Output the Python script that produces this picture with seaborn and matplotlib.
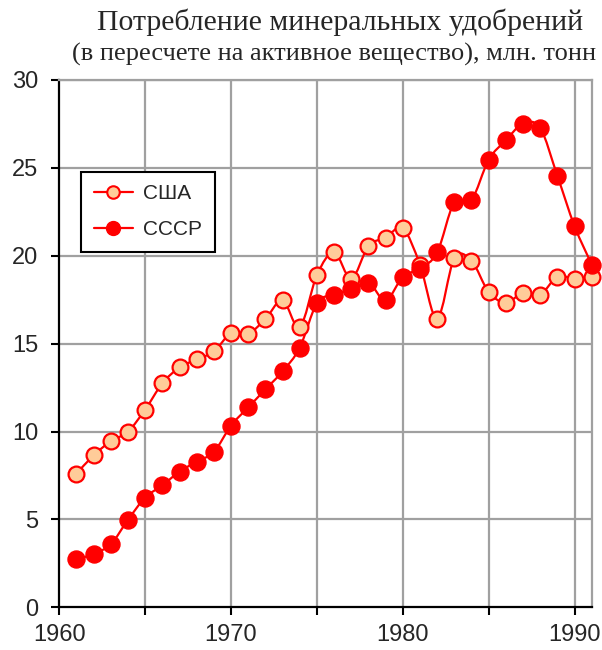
import numpy as np
import pandas as pd
import matplotlib
matplotlib.use("Agg")
import matplotlib.pyplot as plt
from matplotlib.path import Path
from matplotlib.patches import PathPatch
from matplotlib.lines import Line2D
import seaborn as sns

years = list(range(1961, 1992))
usa = [7.6, 8.65, 9.45, 10.0, 11.25, 12.74, 13.65, 14.1, 14.56, 15.59,
       15.57, 16.39, 17.47, 15.94, 18.9, 20.19, 18.7, 20.55, 21.03, 21.56,
       19.5, 16.42, 19.85, 19.71, 17.94, 17.33, 17.9, 17.79, 18.8, 18.7, 18.8]
ussr = [2.72, 3.04, 3.59, 4.98, 6.24, 6.94, 7.72, 8.29, 8.84, 10.34,
        11.37, 12.4, 13.42, 14.77, 17.3, 17.79, 18.09, 18.47, 17.46, 18.8,
        19.27, 20.19, 23.05, 23.18, 25.46, 26.57, 27.52, 27.27, 24.55, 21.69, 19.5]
series_names = ["США", "СССР"]
title1 = "Потребление минеральных удобрений"
title2 = "(в пересчете на активное вещество), млн. тонн"

df = pd.DataFrame({"year": years * 2,
                   "value": usa + ussr,
                   "series": [series_names[0]] * len(years) + [series_names[1]] * len(years)})

RED = "#FF0000"
PEACH = "#FFCC99"

sns.set_style("white")
plt.rcParams['font.family'] = ['Liberation Sans', 'DejaVu Sans']

fig = plt.figure(figsize=(6.02, 6.5), dpi=100)
ax = fig.add_axes([59.3 / 602, 1 - 607.3 / 650, (591.7 - 59.3) / 602, (607.3 - 80) / 650])


def smooth_path(xs, ys):
    pts = np.column_stack([xs, ys]).astype(float)
    n = len(pts)
    verts = [pts[0]]
    codes = [Path.MOVETO]
    for i in range(n - 1):
        p0 = pts[i - 1] if i > 0 else pts[i]
        p1 = pts[i]
        p2 = pts[i + 1]
        p3 = pts[i + 2] if i + 2 < n else pts[i + 1]
        c1 = p1 + (p2 - p0) / 6.0
        c2 = p2 - (p3 - p1) / 6.0
        verts += [c1, c2, p2]
        codes += [Path.CURVE4] * 3
    return Path(verts, codes)


for name in series_names:
    sub = df[df.series == name]
    ax.add_patch(PathPatch(smooth_path(sub.year.values, sub.value.values),
                           facecolor="none", edgecolor=RED, lw=1.6, zorder=3,
                           clip_on=False))

sns.scatterplot(data=df[df.series == series_names[0]], x="year", y="value", ax=ax,
                color=PEACH, edgecolor=RED, linewidth=1.6, s=130, zorder=4,
                clip_on=False, legend=False)
sns.scatterplot(data=df[df.series == series_names[1]], x="year", y="value", ax=ax,
                color=RED, edgecolor=RED, linewidth=1.0, s=150, zorder=5,
                clip_on=False, legend=False)

ax.set_xlim(1960, 1991)
ax.set_ylim(0, 30)
ax.set_xticks([1960, 1970, 1980, 1990])
ax.set_xticks([1965, 1975, 1985], minor=True)
ax.set_yticks(range(0, 31, 5))
ax.set_xlabel("")
ax.set_ylabel("")

for v in range(1965, 1991, 5):
    ax.axvline(v, color="#A0A0A0", lw=1.6, zorder=1)
for v in range(5, 31, 5):
    ax.axhline(v, color="#A0A0A0", lw=1.6, zorder=1)

for s in ["left", "bottom"]:
    ax.spines[s].set_color("black")
    ax.spines[s].set_linewidth(1.6)
for s in ["top", "right"]:
    ax.spines[s].set_color("#A0A0A0")
    ax.spines[s].set_linewidth(1.6)

ax.tick_params(axis="both", which="both", direction="out", length=6, width=1.5,
               color="black", labelsize=17, bottom=True, left=True)
ax.tick_params(axis="y", pad=9)
ax.tick_params(axis="x", pad=6)

handles = [Line2D([], [], color=RED, lw=1.6, marker="o", markersize=9,
                  markerfacecolor=PEACH, markeredgecolor=RED, markeredgewidth=1.5),
           Line2D([], [], color=RED, lw=1.6, marker="o", markersize=10,
                  markerfacecolor=RED, markeredgecolor=RED)]
leg = ax.legend(handles, series_names, loc="upper left",
                bbox_to_anchor=((81 - 59.3) / 532.4, (607.3 - 172) / 527.3),
                borderaxespad=0,
                fontsize=15, frameon=True, fancybox=False, framealpha=1,
                edgecolor="black", handlelength=1.9, labelspacing=0.8,
                borderpad=0.6, handletextpad=0.5)
leg.get_frame().set_linewidth(1.5)

fig.text(0.565, 1 - 22 / 650, title1, ha="center", va="center",
         family=["Liberation Serif", "DejaVu Serif"], fontsize=21.5)
fig.text(0.555, 1 - 54 / 650, title2, ha="center", va="center",
         family=["Liberation Serif", "DejaVu Serif"], fontsize=19)

fig.savefig("out.png", dpi=100)
